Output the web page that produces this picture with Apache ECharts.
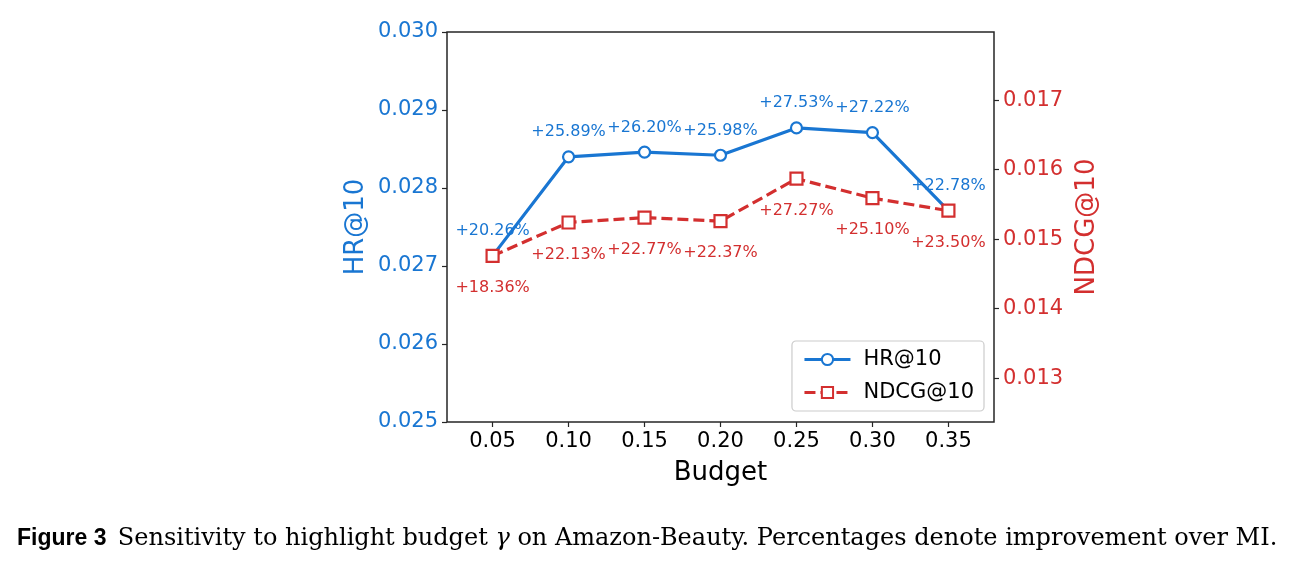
<!DOCTYPE html>
<html>
<head>
<meta charset="utf-8">
<script src="https://cdn.jsdelivr.net/npm/echarts@6/dist/echarts.min.js"></script>
<style>
  html, body { margin: 0; padding: 0; background: #fff; }
  #chart { width: 1298px; height: 570px; }
</style>
</head>
<body>
<div id="chart"></div>
<script>
const budgets = [0.05, 0.1, 0.15, 0.2, 0.25, 0.3, 0.35];
const hrValues = [0.02713, 0.02840, 0.02846, 0.02842, 0.02877, 0.02871, 0.02771];
const ndcgValues = [0.01476, 0.01524, 0.01531, 0.01526, 0.01587, 0.01559, 0.01541];
const hrGains = ["+20.26%", "+25.89%", "+26.20%", "+25.98%", "+27.53%", "+27.22%", "+22.78%"];
const ndcgGains = ["+18.36%", "+22.13%", "+22.77%", "+22.37%", "+27.27%", "+25.10%", "+23.50%"];
const rightTicks = [0.013, 0.014, 0.015, 0.016, 0.017];

const BLUE = "#1976d2";
const RED = "#d32f2f";
const AXIS = "#262626";
const FONT = "'DejaVu Sans', sans-serif";

const chart = echarts.init(document.getElementById("chart"));

chart.setOption({
  animation: false,
  grid: {
    left: 447,
    right: 304,
    top: 32,
    bottom: 148,
    show: true,
    borderColor: AXIS,
    borderWidth: 1.5,
    backgroundColor: "transparent",
  },
  xAxis: {
    type: "value",
    min: 0.02,
    max: 0.38,
    name: "Budget",
    nameLocation: "middle",
    nameGap: 38,
    nameTextStyle: { fontFamily: FONT, fontSize: 26, color: "#000" },
    axisLine: { show: false },
    axisTick: { customValues: budgets, length: 5, lineStyle: { color: AXIS, width: 1.2 } },
    axisLabel: {
      customValues: budgets,
      formatter: (v) => v.toFixed(2),
      fontFamily: FONT,
      fontSize: 21,
      color: "#000",
      margin: 9,
    },
    splitLine: { show: false },
  },
  yAxis: [
    {
      type: "value",
      min: 0.025,
      max: 0.03,
      interval: 0.001,
      name: "HR@10",
      nameLocation: "middle",
      nameGap: 78,
      nameTextStyle: { fontFamily: FONT, fontSize: 26, color: BLUE },
      axisLine: { show: false },
      axisTick: { show: true, length: 5, lineStyle: { color: AXIS, width: 1.2 } },
      axisLabel: {
        formatter: (v) => v.toFixed(3),
        fontFamily: FONT,
        fontSize: 21,
        color: BLUE,
        margin: 9,
      },
      splitLine: { show: false },
    },
    {
      type: "value",
      min: 0.01237,
      max: 0.01798,
      name: "NDCG@10",
      nameLocation: "middle",
      nameGap: 80,
      nameRotate: 90,
      nameTextStyle: { fontFamily: FONT, fontSize: 26, color: RED },
      axisLine: { show: false },
      axisTick: { customValues: rightTicks, length: 5, lineStyle: { color: AXIS, width: 1.2 } },
      axisLabel: {
        customValues: rightTicks,
        formatter: (v) => v.toFixed(3),
        fontFamily: FONT,
        fontSize: 21,
        color: RED,
        margin: 9,
      },
      splitLine: { show: false },
    },
  ],
  legend: {
    orient: "vertical",
    right: 314,
    bottom: 159,
    backgroundColor: "#fff",
    borderColor: "#cccccc",
    borderWidth: 1.2,
    borderRadius: 4,
    padding: [8, 10, 8, 11],
    itemWidth: 46,
    itemHeight: 14,
    itemGap: 12,
    textStyle: { fontFamily: FONT, fontSize: 21, color: "#000", padding: [0, 0, 0, 8] },
    data: [
      { name: "HR@10", lineStyle: { width: 3 } },
      { name: "NDCG@10", lineStyle: { width: 3 } },
    ],
  },
  series: [
    {
      name: "HR@10",
      type: "line",
      yAxisIndex: 0,
      data: budgets.map((b, i) => [b, hrValues[i]]),
      symbol: "circle",
      symbolSize: 11,
      lineStyle: { color: BLUE, width: 3.2 },
      itemStyle: { color: "#fff", borderColor: BLUE, borderWidth: 2.2 },
      label: {
        show: true,
        position: "top",
        distance: 10,
        formatter: (p) => hrGains[p.dataIndex],
        fontFamily: FONT,
        fontSize: 16,
        color: BLUE,
      },
      z: 2,
    },
    {
      name: "NDCG@10",
      type: "line",
      yAxisIndex: 1,
      data: budgets.map((b, i) => [b, ndcgValues[i]]),
      symbol: "rect",
      symbolSize: 12,
      lineStyle: { color: RED, width: 3.2, type: [11, 5] },
      itemStyle: { color: "#fff", borderColor: RED, borderWidth: 2.2 },
      label: {
        show: true,
        position: "bottom",
        distance: 17,
        formatter: (p) => ndcgGains[p.dataIndex],
        fontFamily: FONT,
        fontSize: 16,
        color: RED,
      },
      z: 3,
    },
  ],
  graphic: [
    {
      type: "text",
      left: 17,
      top: 527,
      style: {
        text: "{b|Figure 3} {r|Sensitivity to highlight budget }{i|γ}{r| on Amazon-Beauty. Percentages denote improvement over MI.}",
        rich: {
          b: { fontFamily: "'Liberation Sans', sans-serif", fontWeight: "bold", fontSize: 23, fill: "#000", padding: [0, 8, 0, 0] },
          r: { fontFamily: "'DejaVu Serif', serif", fontSize: 24, fill: "#000" },
          i: { fontFamily: "'DejaVu Serif', serif", fontStyle: "italic", fontSize: 24, fill: "#000" },
        },
      },
    },
  ],
});
</script>
</body>
</html>
